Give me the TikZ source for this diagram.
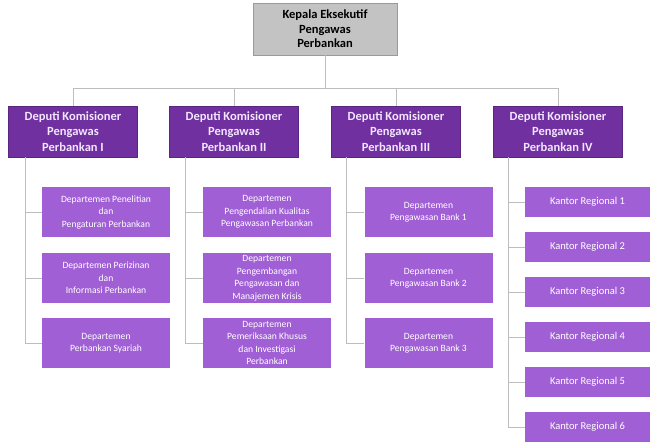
\documentclass[tikz,border=0pt]{standalone}
\usepackage{fontspec}
\setmainfont{Carlito}
\definecolor{dpurple}{HTML}{7030A0}
\definecolor{lpurple}{HTML}{A05FD5}
\definecolor{topgray}{HTML}{C3C3C3}
\definecolor{topedge}{HTML}{9A9A9A}
\definecolor{linegray}{HTML}{BDBDBD}
\definecolor{deptext}{HTML}{F3E6FF}
\tikzset{
  topbox/.style={rectangle, fill=topgray, draw=topedge, line width=0.8pt, minimum width=144pt, minimum height=52pt, align=center, inner sep=1pt, font=\fontsize{12.5}{14.5}\selectfont\bfseries, text=black},
  depbox/.style={rectangle, fill=dpurple, draw=dpurple!80!black, line width=0.6pt, minimum width=129pt, minimum height=51pt, align=center, inner sep=1pt, font=\fontsize{12.5}{15.5}\selectfont\bfseries, text=deptext},
  unitbox/.style={rectangle, fill=lpurple, minimum width=128pt, minimum height=50pt, align=center, inner sep=1pt, font=\fontsize{9.6}{12.5}\selectfont, text=white},
  kbox/.style={rectangle, fill=lpurple, minimum width=125pt, minimum height=30pt, align=center, inner sep=1pt, font=\fontsize{10.5}{12}\selectfont, text=white},
  conn/.style={draw=linegray, line width=1pt}
}
\begin{document}
\begin{tikzpicture}[x=1pt,y=-1pt]
\useasboundingbox (0,0) rectangle (650,444);
\node[topbox] (top) at (325,29) {Kepala Eksekutif\\Pengawas\\Perbankan};
\node[depbox] (d1) at (73,131.5) {Deputi Komisioner\\Pengawas\\Perbankan I};
\node[depbox] (d2) at (234,131.5) {Deputi Komisioner\\Pengawas\\Perbankan II};
\node[depbox] (d3) at (396,131.5) {Deputi Komisioner\\Pengawas\\Perbankan III};
\node[depbox] (d4) at (558,131.5) {Deputi Komisioner\\Pengawas\\Perbankan IV};
% column 1
\node[unitbox] (a1) at (106,212) {Departemen Penelitian\\dan\\Pengaturan Perbankan};
\node[unitbox] (a2) at (106,278) {Departemen Perizinan\\dan\\Informasi Perbankan};
\node[unitbox] (a3) at (106,343) {Departemen\\Perbankan Syariah};
% column 2
\node[unitbox] (b1) at (267,212) {Departemen\\Pengendalian Kualitas\\Pengawasan Perbankan};
\node[unitbox] (b2) at (267,278) {Departemen\\Pengembangan\\Pengawasan dan\\Manajemen Krisis};
\node[unitbox] (b3) at (267,343) {Departemen\\Pemeriksaan Khusus\\dan Investigasi\\Perbankan};
% column 3
\node[unitbox] (c1) at (428.5,212) {Departemen\\Pengawasan Bank 1};
\node[unitbox] (c2) at (428.5,278) {Departemen\\Pengawasan Bank 2};
\node[unitbox] (c3) at (428.5,343) {Departemen\\Pengawasan Bank 3};
% column 4
\node[kbox] (k1) at (587.5,202) {Kantor Regional 1};
\node[kbox] (k2) at (587.5,247) {Kantor Regional 2};
\node[kbox] (k3) at (587.5,292) {Kantor Regional 3};
\node[kbox] (k4) at (587.5,337) {Kantor Regional 4};
\node[kbox] (k5) at (587.5,382) {Kantor Regional 5};
\node[kbox] (k6) at (587.5,427) {Kantor Regional 6};
% bus
\coordinate (bus) at (325,88);
\draw[conn] (top.south) -- (bus);
\draw[conn] (d1.north) -- (d1.north |- bus) -- (d4.north |- bus) -- (d4.north);
\draw[conn] (d2.north) -- (d2.north |- bus);
\draw[conn] (d3.north) -- (d3.north |- bus);
% column spines
\draw[conn] ([xshift=17pt]d1.south west) |- (a3.west);
\draw[conn] ([xshift=17pt]d1.south west |- a1.west) -- (a1.west);
\draw[conn] ([xshift=17pt]d1.south west |- a2.west) -- (a2.west);
\draw[conn] ([xshift=16pt]d2.south west) |- (b3.west);
\draw[conn] ([xshift=16pt]d2.south west |- b1.west) -- (b1.west);
\draw[conn] ([xshift=16pt]d2.south west |- b2.west) -- (b2.west);
\draw[conn] ([xshift=15pt]d3.south west) |- (c3.west);
\draw[conn] ([xshift=15pt]d3.south west |- c1.west) -- (c1.west);
\draw[conn] ([xshift=15pt]d3.south west |- c2.west) -- (c2.west);
\draw[conn] ([xshift=15pt]d4.south west) |- (k6.west);
\foreach \k in {k1,k2,k3,k4,k5}
  \draw[conn] ([xshift=15pt]d4.south west |- \k.west) -- (\k.west);
\end{tikzpicture}
\end{document}
